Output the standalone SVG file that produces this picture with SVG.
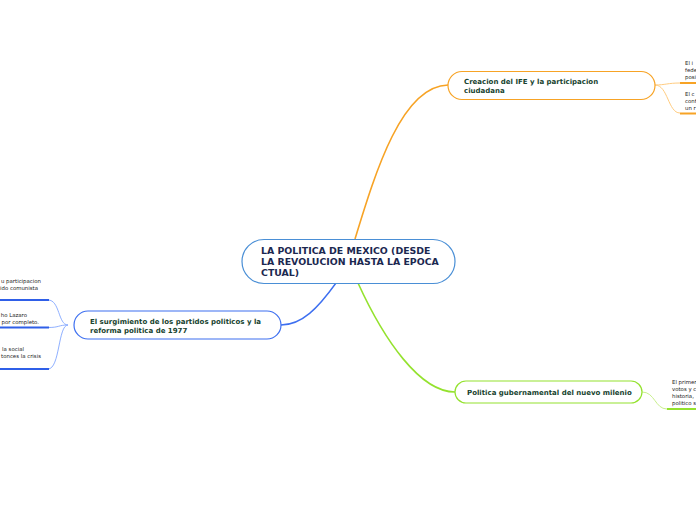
<svg xmlns="http://www.w3.org/2000/svg" width="696" height="520" viewBox="0 0 696 520">
<style>
.bg{fill:#ffffff}
.node{fill:#ffffff;stroke-width:1.2}
.main{font-family:"DejaVu Sans",Verdana,sans-serif;font-weight:bold;font-size:9.4px;fill:#1b2850}
.sub{font-family:"DejaVu Sans",Verdana,sans-serif;font-weight:bold;font-size:7px;fill:#17432f}
.leaf{font-family:"DejaVu Sans",Verdana,sans-serif;font-size:5.4px;fill:#222222}
.c{fill:none}
</style>
<rect class="bg" x="0" y="0" width="696" height="520"/>
<g id="connectors">
  <path class="c" d="M355,239 C376,170 402,86 448,85" stroke="#f7a325" stroke-width="1.6"/>
  <path class="c" d="M336,283 C318,308 302,325 281,325" stroke="#3d6ff0" stroke-width="1.4"/>
  <path class="c" d="M358,283 C384,340 420,392 455,392" stroke="#94e22e" stroke-width="1.6"/>
  <path class="c" d="M655,85 C665,85 668,83 680,83" stroke="#ffcc80" stroke-width="1"/>
  <path class="c" d="M655,85 C668,85 668,113 680,113" stroke="#ffcc80" stroke-width="1"/>
  <path class="c" d="M642,392 C655,392 655,409 667,409" stroke="#c8f08c" stroke-width="1"/>
  <path class="c" d="M68,325 C58,325 60,300 48,300" stroke="#8fb0ff" stroke-width="1"/>
  <path class="c" d="M68,325 C58,325 60,327.5 48,327.5" stroke="#8fb0ff" stroke-width="1"/>
  <path class="c" d="M68,325 C58,325 60,369 48,369" stroke="#8fb0ff" stroke-width="1"/>
  <line x1="680" y1="83" x2="696" y2="83" stroke="#f7a325" stroke-width="2"/>
  <line x1="680" y1="113.5" x2="696" y2="113.5" stroke="#f7a325" stroke-width="2"/>
  <line x1="667" y1="409" x2="696" y2="409" stroke="#94e22e" stroke-width="2"/>
  <line x1="0" y1="300" x2="49" y2="300" stroke="#2f5fe8" stroke-width="2"/>
  <line x1="0" y1="327.5" x2="49" y2="327.5" stroke="#2f5fe8" stroke-width="2"/>
  <line x1="0" y1="369" x2="49" y2="369" stroke="#2f5fe8" stroke-width="2"/>
</g>
<g id="central">
  <rect class="node" x="242" y="239.5" width="213" height="44" rx="22" stroke="#4a8fd6"/>
  <text class="main" x="261" y="254">LA POLITICA DE MEXICO (DESDE</text>
  <text class="main" x="261" y="265">LA REVOLUCION HASTA LA EPOCA</text>
  <text class="main" x="261" y="276">CTUAL)</text>
</g>
<g id="ife">
  <rect class="node" x="448" y="71.5" width="207" height="28" rx="14" stroke="#f7a325"/>
  <text class="sub" x="464" y="83.5">Creacion del IFE y la participacion</text>
  <text class="sub" x="464" y="92.5">ciudadana</text>
</g>
<g id="partidos">
  <rect class="node" x="74" y="311" width="207" height="28" rx="14" stroke="#3d6ff0"/>
  <text class="sub" x="90" y="323.5">El surgimiento de los partidos politicos y la</text>
  <text class="sub" x="90" y="332.5">reforma politica de 1977</text>
</g>
<g id="milenio">
  <rect class="node" x="455" y="381" width="187" height="22" rx="11" stroke="#94e22e"/>
  <text class="sub" x="467" y="395">Politica gubernamental del nuevo milenio</text>
</g>
<g id="leaf-ife-1">
  <text class="leaf" x="685" y="65">El i</text>
  <text class="leaf" x="685" y="72">fede</text>
  <text class="leaf" x="685" y="79">posi</text>
</g>
<g id="leaf-ife-2">
  <text class="leaf" x="685" y="96">El c</text>
  <text class="leaf" x="685" y="103">conf</text>
  <text class="leaf" x="685" y="110">un r</text>
</g>
<g id="leaf-milenio">
  <text class="leaf" x="672" y="384">El primer</text>
  <text class="leaf" x="672" y="391">votos y c</text>
  <text class="leaf" x="672" y="398">historia,</text>
  <text class="leaf" x="672" y="405">politico s</text>
</g>
<g id="leaf-partidos-1">
  <text class="leaf" x="41" y="283" text-anchor="end">u participacion</text>
  <text class="leaf" x="38" y="290" text-anchor="end">ido comunista</text>
</g>
<g id="leaf-partidos-2">
  <text class="leaf" x="27" y="317" text-anchor="end">ho Lazaro</text>
  <text class="leaf" x="39" y="324" text-anchor="end">por completo.</text>
</g>
<g id="leaf-partidos-3">
  <text class="leaf" x="24" y="351" text-anchor="end">la social</text>
  <text class="leaf" x="41" y="358" text-anchor="end">tonces la crisis</text>
</g>
</svg>
